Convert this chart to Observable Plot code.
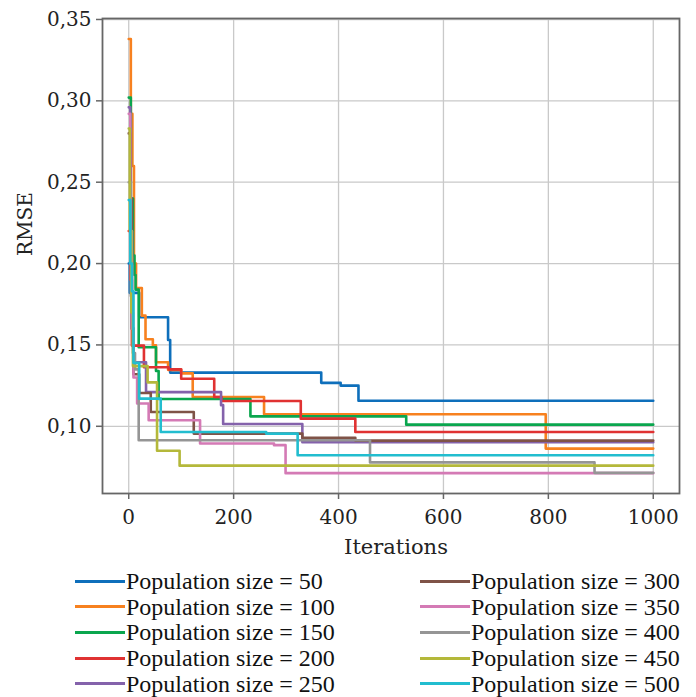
<!DOCTYPE html>
<html><head><meta charset="utf-8">
<script src="https://cdn.jsdelivr.net/npm/d3@7"></script>
<script src="https://cdn.jsdelivr.net/npm/@observablehq/plot@0.6"></script>
<style>
body{margin:0;background:#fff;}
#wrap{position:relative;width:696px;height:697px;overflow:hidden;}
#wrap svg{display:block;}
.leg{position:absolute;font-family:"Liberation Serif",serif;font-size:24px;color:#111;white-space:nowrap;display:flex;align-items:center;height:26px;line-height:26px;}
.sw{display:inline-block;width:50px;height:3px;margin-right:1px;}
</style></head><body><div id="wrap"></div>
<script>
// Series labels and colours
const seriesLabels = ["Population size = 50","Population size = 100","Population size = 150","Population size = 200","Population size = 250","Population size = 300","Population size = 350","Population size = 400","Population size = 450","Population size = 500"];
const seriesColors = ["#0e6fbb","#f7811f","#0aa64e","#e03232","#8462ab","#7f5347","#d47ab5","#959595","#b4b83a","#22bdcf"];

// [iteration, RMSE] change points (step-after)
const pop50  = [[0,0.200],[2,0.182],[20,0.167],[75,0.153],[79,0.133],[367,0.1267],[404,0.125],[438,0.1157],[1000,0.1157]];
const pop100 = [[0,0.338],[4,0.292],[7,0.26],[10,0.2],[14,0.185],[25,0.168],[32,0.1535],[46,0.1497],[52,0.1394],[75,0.1347],[100,0.1325],[122,0.118],[258,0.1074],[795,0.0863],[1000,0.0863]];
const pop150 = [[0,0.302],[4,0.24],[8,0.205],[11,0.193],[13,0.184],[19,0.1486],[52,0.134],[57,0.1168],[232,0.1061],[529,0.101],[1000,0.101]];
const pop200 = [[0,0.22],[3,0.19],[6,0.1496],[29,0.1363],[76,0.135],[100,0.1292],[163,0.118],[177,0.1155],[328,0.1047],[432,0.0965],[1000,0.0965]];
const pop250 = [[0,0.296],[3,0.22],[6,0.16],[9,0.1394],[33,0.121],[176,0.113],[180,0.1014],[331,0.0902],[1000,0.0902]];
const pop300 = [[0,0.28],[3,0.24],[6,0.16],[9,0.132],[20,0.1205],[42,0.1088],[124,0.0955],[331,0.093],[432,0.0912],[1000,0.0912]];
const pop350 = [[0,0.292],[3,0.22],[6,0.16],[9,0.13],[16,0.114],[38,0.1037],[136,0.0894],[277,0.0884],[299,0.0712],[1000,0.0712]];
const pop400 = [[0,0.25],[4,0.18],[8,0.145],[12,0.135],[19,0.0914],[460,0.0778],[888,0.0714],[1000,0.0714]];
const pop450 = [[0,0.283],[2,0.22],[5,0.17],[8,0.137],[36,0.127],[54,0.085],[97,0.0758],[1000,0.0758]];
const pop500 = [[0,0.239],[3,0.2],[6,0.183],[9,0.139],[20,0.117],[61,0.0965],[262,0.0955],[322,0.0822],[1000,0.0822]];

const xTicks = [0,200,400,600,800,1000];
const yTicks = [0.10,0.15,0.20,0.25,0.30,0.35];
const xLabel = "Iterations";
const yLabel = "RMSE";

const allSeries = [pop50,pop100,pop150,pop200,pop250,pop300,pop350,pop400,pop450,pop500];
const rows = allSeries.flatMap((s,k) => s.map(([x,y]) => ({series: seriesLabels[k], x, y})));

const fmtY = d => d.toFixed(2).replace(".", ",");
const fmtX = d => String(d);

const chart = Plot.plot({
  width: 696, height: 560,
  marginLeft: 102, marginRight: 17, marginTop: 18, marginBottom: 67,
  style: {fontFamily: "DejaVu Serif, serif", fontSize: "20px", color: "#222", background: "#fff"},
  x: {domain: [-50, 1050]},
  y: {domain: [0.0587, 0.3506]},
  color: {domain: seriesLabels, range: seriesColors},
  marks: [
    Plot.gridX(xTicks, {stroke: "#c9c9c9", strokeOpacity: 1, strokeWidth: 1.3}),
    Plot.gridY(yTicks, {stroke: "#c9c9c9", strokeOpacity: 1, strokeWidth: 1.3}),
    Plot.line(rows, {x: "x", y: "y", z: "series", stroke: "series", curve: "step-after", strokeWidth: 2.6}),
    Plot.axisX(xTicks, {tickSize: 6, tickPadding: 10, stroke: "#666", strokeWidth: 1.5, fill: "#222", tickFormat: fmtX, label: null, fontSize: 20}),
    Plot.axisY(yTicks, {tickSize: 6, tickPadding: 5, stroke: "#666", strokeWidth: 1.5, fill: "#222", tickFormat: fmtY, label: null, fontSize: 20}),
    Plot.text([yLabel], {frameAnchor: "left", dx: -77, rotate: -90, fontSize: 20, fill: "#222"}),
    Plot.text([xLabel], {frameAnchor: "bottom", dy: 60, dx: 5, fontSize: 21, fill: "#222"}),
    Plot.frame({stroke: "#666", strokeWidth: 1.8})
  ]
});
const wrap = document.getElementById("wrap");
wrap.appendChild(chart);

// Legend (two columns of five)
const colX = [75, 420];
const rowY0 = 581, rowStep = 25.7;
seriesLabels.forEach((lab, k) => {
  const col = Math.floor(k / 5), row = k % 5;
  const d = document.createElement("div");
  d.className = "leg";
  d.style.left = colX[col] + "px";
  d.style.top = (rowY0 + row * rowStep - 13) + "px";
  const sw = document.createElement("span");
  sw.className = "sw";
  sw.style.background = seriesColors[k];
  d.appendChild(sw);
  d.appendChild(document.createTextNode(lab));
  wrap.appendChild(d);
});
</script></body></html>
